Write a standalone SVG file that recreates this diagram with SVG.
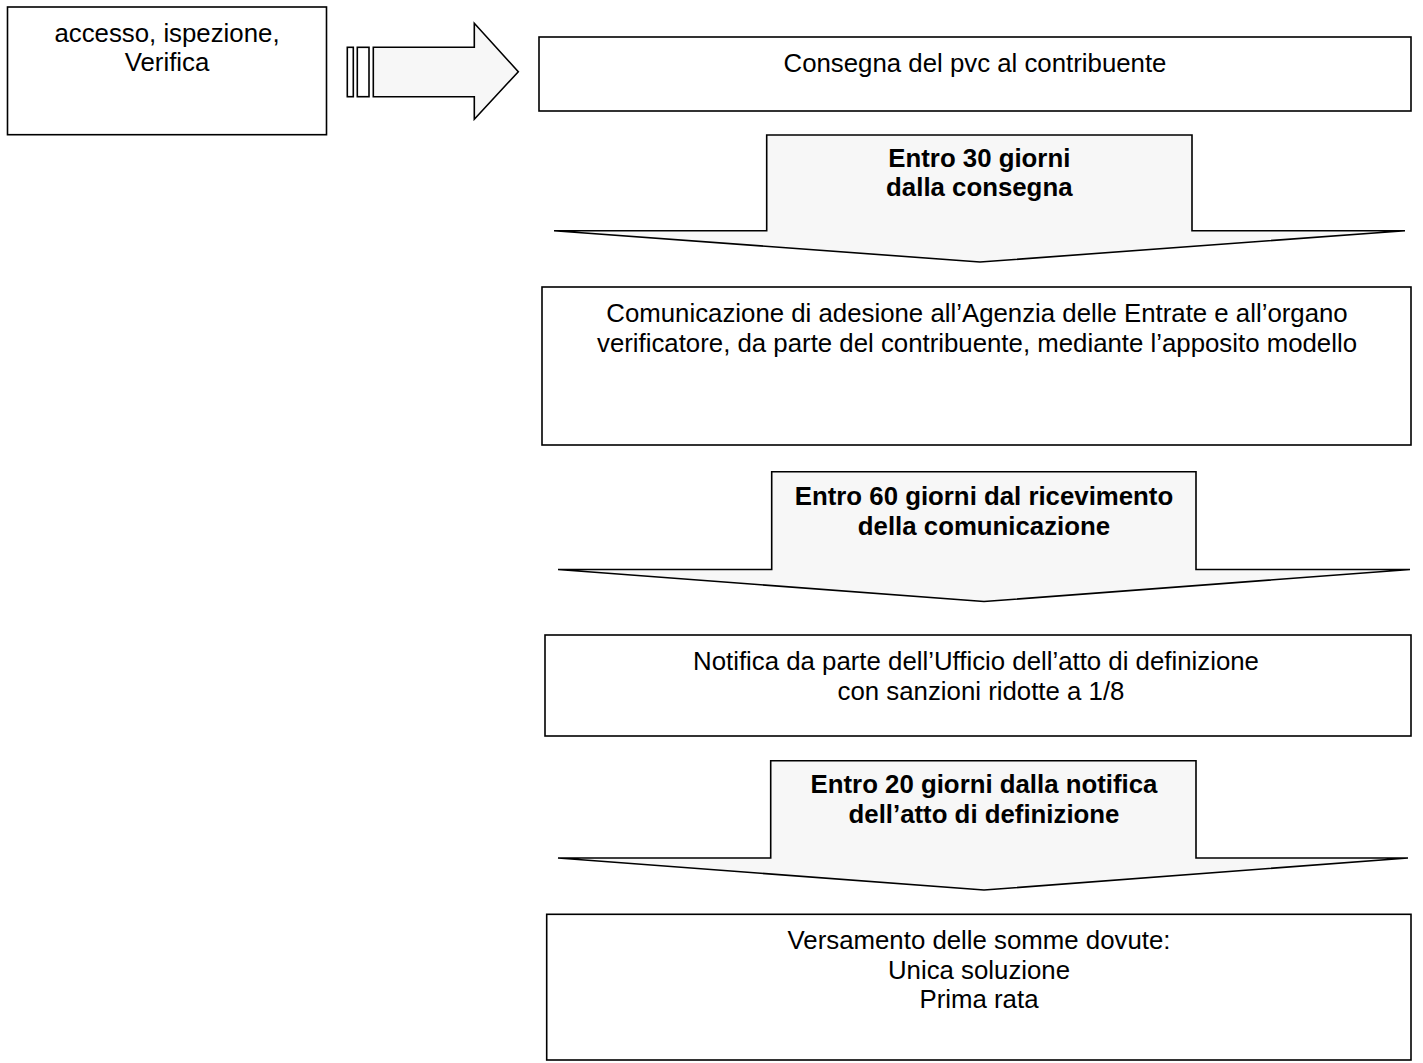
<svg xmlns="http://www.w3.org/2000/svg" width="1423" height="1063" viewBox="0 0 1423 1063">
<style>
.box{fill:#fff;stroke:#000;stroke-width:1.6}
.arr{fill:#f7f7f7;stroke:#000;stroke-width:1.6;stroke-linejoin:miter}
.bar{fill:#fff;stroke:#000;stroke-width:1.6}
.t{font-family:"Liberation Sans",Arial,sans-serif;font-size:25.8px;fill:#000;text-anchor:middle}
.b{font-weight:bold}
</style>
<rect width="1423" height="1063" fill="#fff"/>
<g id="connectors">
<g id="arrow-right">
<rect class="bar" x="347.3" y="47.3" width="6" height="49.4"/>
<rect class="bar" x="357.3" y="47.3" width="11.7" height="49.4"/>
<polygon class="arr" points="373.3,47.3 474.3,47.3 474.3,23.3 518.3,71.7 474.3,119.3 474.3,96.7 373.3,96.7"/>
</g>
<g id="arrow-down-1">
<polygon class="arr" points="766.7,135 1192,135 1192,230.7 1405,230.7 980,262 554,230.7 766.7,230.7"/>
<text class="t b" x="979.3" y="166.7">Entro 30 giorni</text>
<text class="t b" x="979.3" y="196.2">dalla consegna</text>
</g>
<g id="arrow-down-2">
<polygon class="arr" points="771.7,471.7 1196,471.7 1196,569.5 1410,569.5 984,601.5 558,569.5 771.7,569.5"/>
<text class="t b" x="984" y="505">Entro 60 giorni dal ricevimento</text>
<text class="t b" x="984" y="534.5">della comunicazione</text>
</g>
<g id="arrow-down-3">
<polygon class="arr" points="770.7,760.7 1196,760.7 1196,858 1408,858 984,890 558,858 770.7,858"/>
<text class="t b" x="984" y="793.3">Entro 20 giorni dalla notifica</text>
<text class="t b" x="984" y="822.8">dell’atto di definizione</text>
</g>
</g>
<g id="node-accesso">
<rect class="box" x="7.5" y="7" width="319" height="127.7"/>
<text class="t" x="167" y="41.7">accesso, ispezione,</text>
<text class="t" x="167" y="71.2">Verifica</text>
</g>
<g id="node-consegna">
<rect class="box" x="539" y="37" width="872" height="74"/>
<text class="t" x="975" y="71.5">Consegna del pvc al contribuente</text>
</g>
<g id="node-comunicazione">
<rect class="box" x="542" y="287" width="869" height="158"/>
<text class="t" x="977" y="322">Comunicazione di adesione all’Agenzia delle Entrate e all’organo</text>
<text class="t" x="977" y="351.5">verificatore, da parte del contribuente, mediante l’apposito modello</text>
</g>
<g id="node-notifica">
<rect class="box" x="545" y="635" width="866" height="101"/>
<text class="t" x="976" y="670">Notifica da parte dell’Ufficio dell’atto di definizione</text>
<text class="t" x="981" y="699.5">con sanzioni ridotte a 1/8</text>
</g>
<g id="node-versamento">
<rect class="box" x="546.7" y="914.3" width="864.3" height="145.7"/>
<text class="t" x="979" y="949.3">Versamento delle somme dovute:</text>
<text class="t" x="979" y="978.8">Unica soluzione</text>
<text class="t" x="979" y="1008.3">Prima rata</text>
</g>
</svg>
